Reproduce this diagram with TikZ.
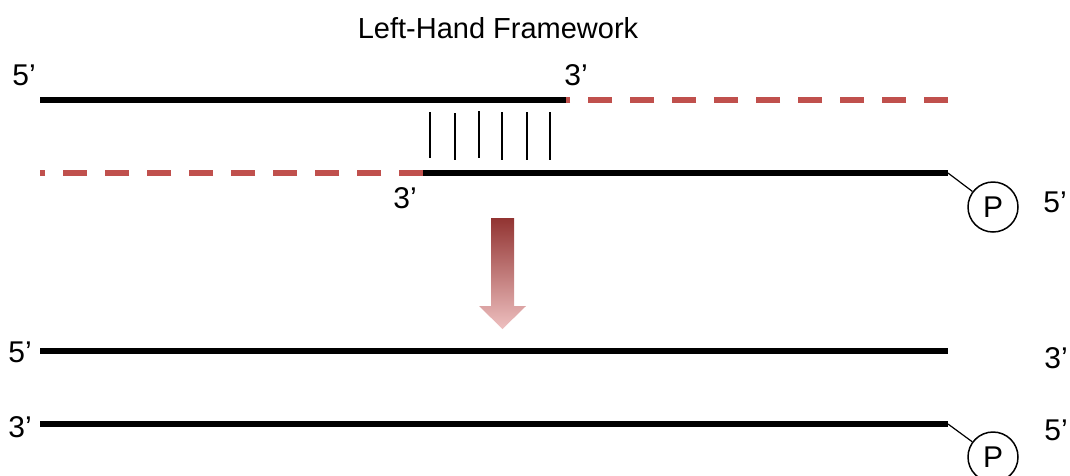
\documentclass[tikz,border=0pt]{standalone}
\usepackage{fontspec}
\setmainfont{Liberation Sans}
\definecolor{redd}{RGB}{192,80,77}
\definecolor{arrowtop}{RGB}{146,52,50}
\definecolor{arrowbot}{RGB}{238,192,192}
\begin{document}
\begin{tikzpicture}[x=1pt,y=-1pt,
  lbl/.style={inner sep=0pt,font=\fontsize{30}{32}\selectfont},
  ttl/.style={inner sep=0pt,font=\fontsize{29}{32}\selectfont},
  strand/.style={line width=5.5pt,black},
  rstrand/.style={line width=5.5pt,redd,dash pattern=on 24pt off 18pt},
  bond/.style={line width=1.5pt},
  pcirc/.style={circle,draw,line width=1.5pt,minimum size=50pt,inner sep=0pt,font=\fontsize{30}{32}\selectfont},
  link/.style={line width=1.2pt}]
\useasboundingbox (0,0) rectangle (1070,475);
\clip (0,0) rectangle (1070,475);
\node[ttl] (title) at (498,28) {Left-Hand Framework};
% upper duplex
\coordinate (a1) at (40,100);
\coordinate (a2) at (566,100);
\coordinate (a3) at (948,100);
\coordinate (b1) at (40,173);
\coordinate (b2) at (423,173);
\coordinate (b3) at (948,173);
\draw[strand] (a1) -- (a2);
\draw[rstrand] (a3) -- (a2);
\draw[rstrand] (b2) -- (b1);
\draw[strand] (b2) -- (b3);
\node[pcirc] (p1) at (993,207) {P};
\draw[link] (b3) -- (p1);
\foreach \x/\ya/\yb in {430/112/158,455/113/160,479/111/158,502/112/160,527/112/160,550/112/160}
  \draw[bond] (\x,\ya) -- (\x,\yb);
\node[lbl] (l1) at (24,75) {5’};
\node[lbl] (l2) at (576,75) {3’};
\node[lbl] (l3) at (405,198) {3’};
\node[lbl] (l4) at (1055,202) {5’};
% arrow
\shade[top color=arrowtop,bottom color=arrowbot] (491,218) -- (514,218) -- (514,306) -- (526,306) -- (502.5,329) -- (479,306) -- (491,306) -- cycle;
% lower duplex
\coordinate (c1) at (40,351);
\coordinate (c2) at (948,351);
\coordinate (d1) at (40,424);
\coordinate (d2) at (948,424);
\draw[strand] (c1) -- (c2);
\draw[strand] (d1) -- (d2);
\node[pcirc] (p2) at (993,457) {P};
\draw[link] (d2) -- (p2);
\node[lbl] (l5) at (20,352) {5’};
\node[lbl] (l6) at (1056,358) {3’};
\node[lbl] (l7) at (20,427) {3’};
\node[lbl] (l8) at (1056,430) {5’};
\end{tikzpicture}
\end{document}
